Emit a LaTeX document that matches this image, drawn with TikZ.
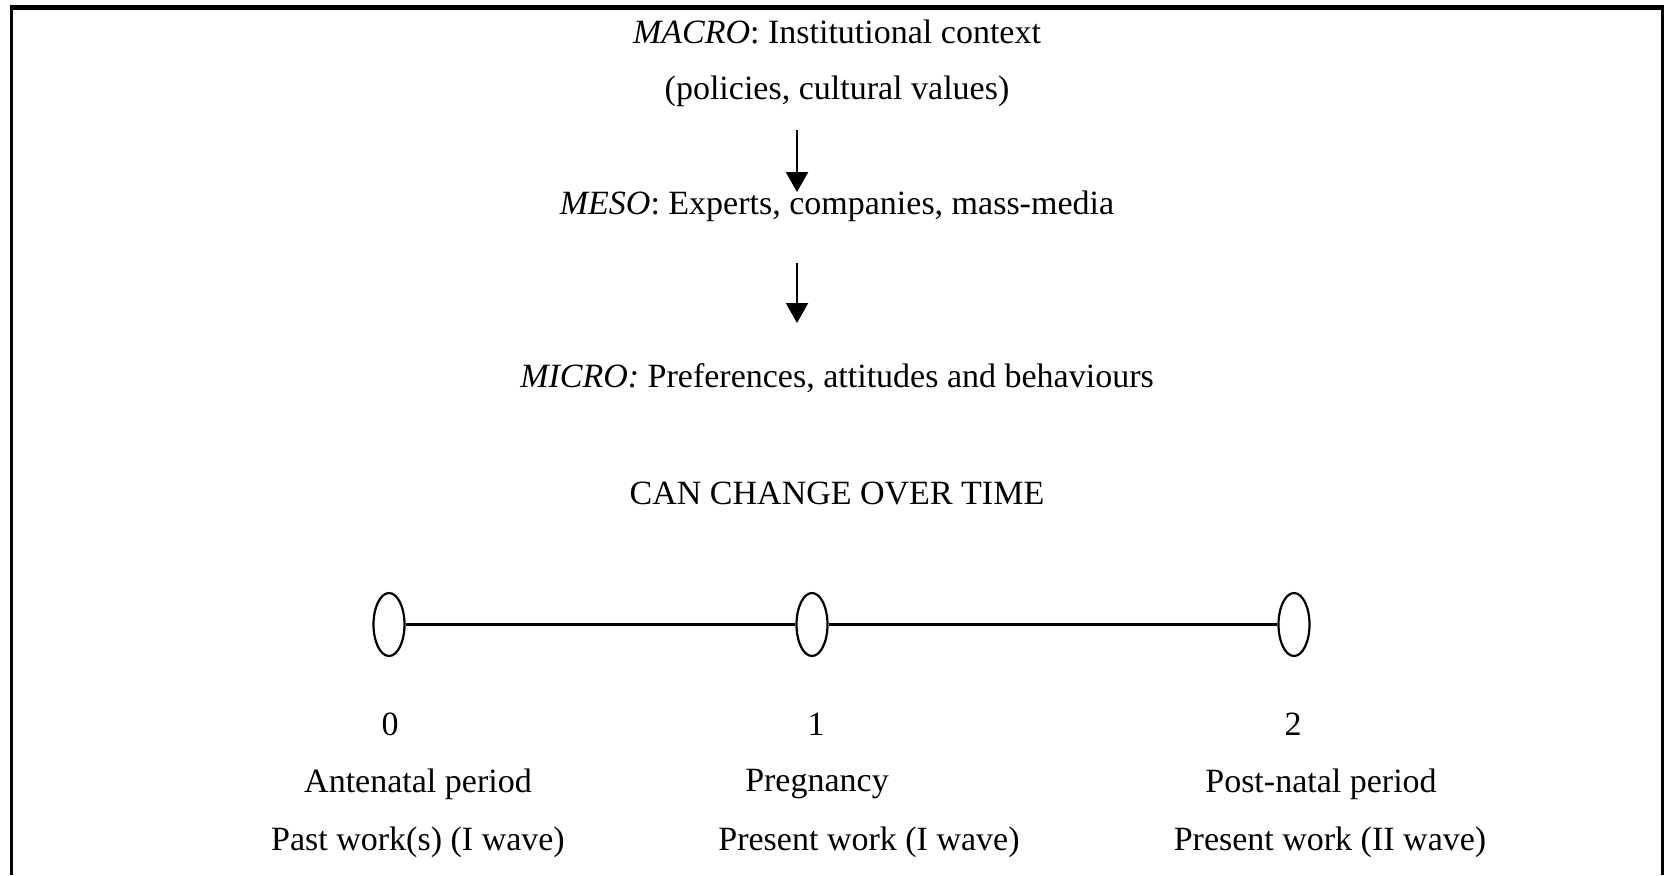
\documentclass[tikz,border=0pt]{standalone}
\usepackage{fontspec}
\setmainfont{Liberation Serif}
\usetikzlibrary{shapes.geometric,arrows.meta}
\begin{document}
\begin{tikzpicture}[x=0.5pt,y=-0.5pt,
  lbl/.style={font=\fontsize{17pt}{20pt}\selectfont, inner sep=0pt, anchor=center},
  tick/.style={draw, ellipse, line width=1.1pt, minimum width=15.5pt, minimum height=31.5pt, inner sep=0pt, fill=white},
  downarrow/.style={line width=1.2pt, -{Triangle[length=10pt,width=11pt]}},
  frame/.style={line width=1.7pt}]
\useasboundingbox (0,0) rectangle (1668,875);
\draw[frame] (11.5,875) -- (11.5,7.5) -- (1662.5,7.5) -- (1662.5,875);
\draw[line width=2.5pt] (10,7.5) -- (1664,7.5);

\node[lbl] (macro) at (837,32) {\textit{MACRO}: Institutional context};
\node[lbl] (macro2) at (837,91) {(policies, cultural values)};
\node[lbl] (meso) at (837,206) {\textit{MESO}: Experts, companies, mass-media};
\node[lbl] (micro) at (837,378) {\textit{MICRO:} Preferences, attitudes and behaviours};
\node[lbl] (change) at (837,493) {CAN CHANGE OVER TIME};

\coordinate (a1s) at (797,130);
\coordinate (a1e) at (797,192);
\coordinate (a2s) at (797,263);
\coordinate (a2e) at (797,323);
\draw[downarrow] (a1s) -- (a1e);
\draw[downarrow] (a2s) -- (a2e);

\node[tick] (e0) at (389,624.5) {};
\node[tick] (e1) at (812,624.5) {};
\node[tick] (e2) at (1294,624.5) {};
\draw[line width=1.6pt] (e0) -- (e1);
\draw[line width=1.6pt] (e1) -- (e2);

\node[lbl] (n0) at (390,724) {0};
\node[lbl] (n1) at (816,724) {1};
\node[lbl] (n2) at (1293,724) {2};
\node[lbl] (p0) at (418,784) {Antenatal period};
\node[lbl] (p1) at (817,784) {Pregnancy};
\node[lbl] (p2) at (1321,784) {Post-natal period};
\node[lbl] (w0) at (418,842) {Past work(s) (I wave)};
\node[lbl] (w1) at (869,842) {Present work (I wave)};
\node[lbl] (w2) at (1330,842) {Present work (II wave)};
\end{tikzpicture}
\end{document}
